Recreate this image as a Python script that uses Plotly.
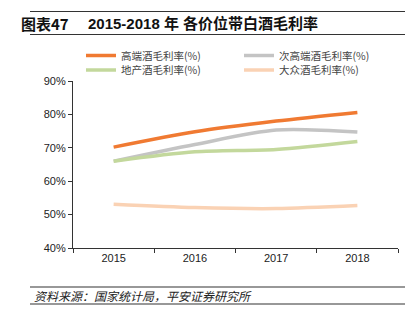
import plotly.graph_objects as go

# Gross margin of baijiu by price tier, 2015-2018 (%)
years = ["2015", "2016", "2017", "2018"]
high_end = [70.2, 74.8, 78.0, 80.6]
second_high = [66.0, 71.0, 75.3, 74.7]
regional = [66.0, 68.8, 69.5, 71.9]
mass_market = [53.1, 52.1, 51.8, 52.7]

series_names = ["高端酒毛利率(%)", "次高端酒毛利率(%)", "地产酒毛利率(%)", "大众酒毛利率(%)"]
series_values = [high_end, second_high, regional, mass_market]
series_colors = ["#F07A32", "#C4C4C4", "#C3D89C", "#FAD2B4"]
legend_ids = ["legend", "legend2", "legend3", "legend4"]
# legend grid: left column / right column, first row / second row (pixels)
legend_px = [(81, 55.5), (239, 55.5), (81, 70), (239, 70)]

y_ticks = [40, 50, 60, 70, 80, 90]

W, H = 417, 323
ML, MR, MT, MB = 73, 19, 81, 75
PW, PH = W - ML - MR, H - MT - MB


def px_x(px):
    return (px - ML) / PW


def px_y(py):
    return (H - MB - py) / PH


fig = go.Figure()
for name, vals, col, lg in zip(series_names, series_values, series_colors, legend_ids):
    fig.add_trace(go.Scatter(
        x=years, y=vals, name=name, mode="lines", legend=lg,
        line=dict(color=col, width=3.5, shape="spline", smoothing=0.8),
    ))

cjk = "Noto Sans CJK SC"
legend_style = dict(
    orientation="h", xanchor="left", yanchor="middle",
    font=dict(family=cjk, size=10.5, color="#444"),
    itemwidth=30, bgcolor="rgba(0,0,0,0)",
)

fig.update_layout(
    width=W, height=H,
    margin=dict(l=ML, r=MR, t=MT, b=MB),
    paper_bgcolor="white", plot_bgcolor="white",
    font=dict(family="Liberation Sans, Arial, " + cjk, size=11, color="#222"),
    showlegend=True,
    xaxis=dict(
        type="category", range=[-0.5, 3.5], tickson="boundaries",
        ticks="outside", ticklen=4, tickcolor="#333",
        showline=True, linecolor="#333", linewidth=1.2,
        showgrid=False, zeroline=False,
        tickfont=dict(size=11, color="#222"),
    ),
    yaxis=dict(
        range=[40, 90], tickvals=y_ticks, ticktext=[f"{v}%" for v in y_ticks],
        ticks="outside", ticklen=4, tickcolor="#333",
        showline=True, linecolor="#333", linewidth=1.2,
        showgrid=False, zeroline=False,
        tickfont=dict(size=11, color="#222"),
    ),
)
for lg, (lx, ly) in zip(legend_ids, legend_px):
    fig.update_layout({lg: dict(legend_style, x=px_x(lx), y=px_y(ly))})

# Title block and source note with their rules
fig.add_annotation(
    xref="paper", yref="paper", x=px_x(19), y=px_y(23.5),
    xanchor="left", yanchor="middle", showarrow=False,
    text="<b>图表47</b>", font=dict(family=cjk, size=15, color="#111"),
)
fig.add_annotation(
    xref="paper", yref="paper", x=px_x(86), y=px_y(23.5),
    xanchor="left", yanchor="middle", showarrow=False,
    text="<b>2015-2018 年 各价位带白酒毛利率</b>",
    font=dict(family="Liberation Sans, " + cjk, size=15, color="#111"),
)
fig.add_annotation(
    xref="paper", yref="paper", x=px_x(32), y=px_y(295.5),
    xanchor="left", yanchor="middle", showarrow=False,
    text="<i>资料来源：国家统计局，平安证券研究所</i>",
    font=dict(family=cjk, size=12, color="#222"),
)
for py in [11.5, 34.5, 287, 304]:
    fig.add_shape(
        type="line", xref="paper", yref="paper",
        x0=px_x(30), x1=px_x(405), y0=px_y(py), y1=px_y(py),
        line=dict(color="#333", width=1.2),
    )

fig.write_html("out.html")
